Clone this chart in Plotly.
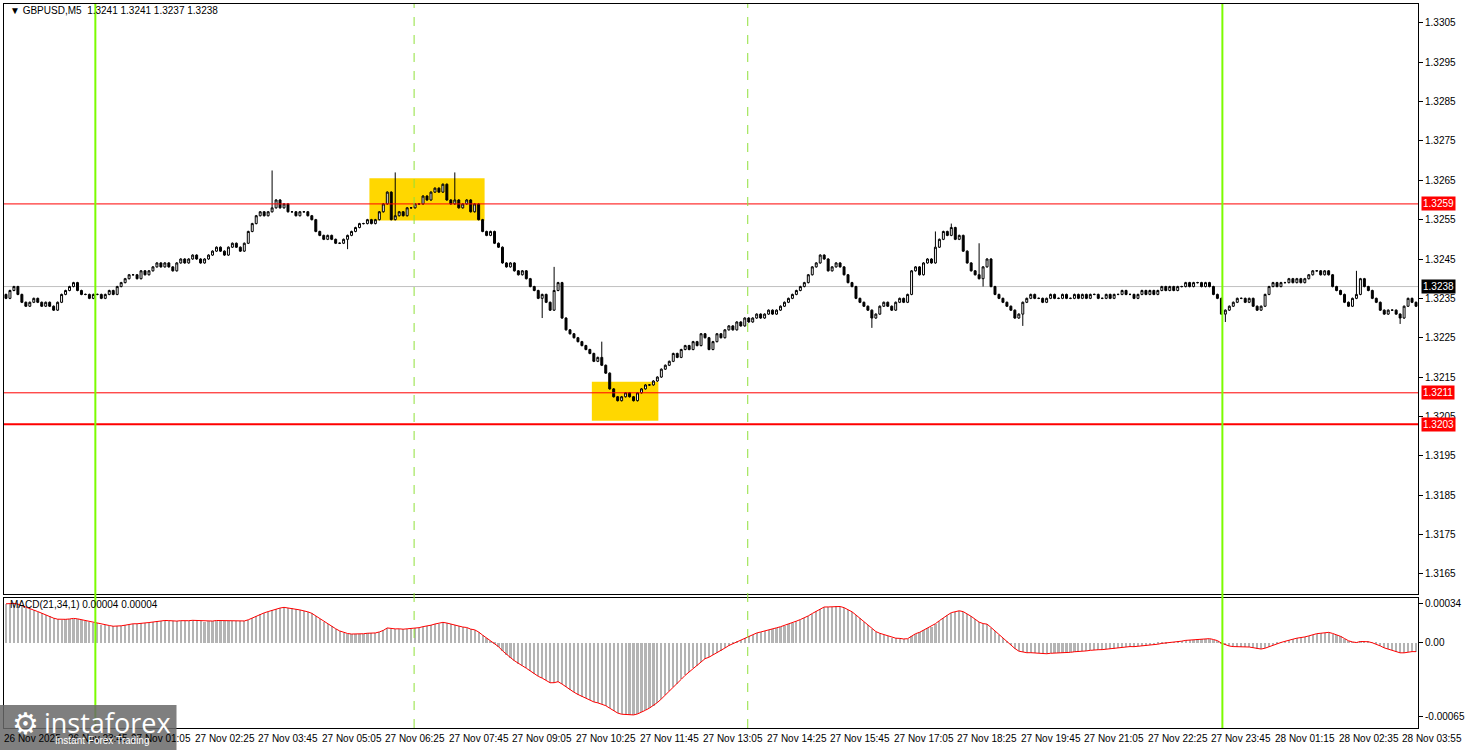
import plotly.graph_objects as go
from plotly.subplots import make_subplots
import numpy as np

# ---- data (pips above 1.3200) ----
prior_pips = [10,11,12,12,13,14,14,15,16,17,17,18,19,20,20,21,22,23,23,24,25,26,26,27,28,28,29,30,30,31,32,32,33,33,34,34,35,35,36,36]
close_pips = [
 35,37,38,36,34,33,34,35,34,33,34,33,32,34,36,37,38,39,37,36,36,35,36,36,35,36,37,36,38,39,
 40,41,41,40,42,41,42,43,44,43,44,43,42,44,45,
 44,45,46,45,44,45,46,47,48,47,46,48,49,48,47,49,52,
 54,56,57,56,57,58,60,58,59,
 57,57,56,57,57,56,55,52,
 51,50,51,50,49,49,50,51,
 52,53,54,54,55,54,55,
 57,59,62,55,56,57,
 56,58,58,59,59,61,60,62,
 63,62,64,60,59,60,58,59,60,57,59,
 55,52,51,52,49,48,
 44,43,44,42,41,42,
 40,38,37,35,36,34,32,37,39,
 30,27,26,25,24,23,
 22,21,19,20,18,16,12,
 10,9,10,11,10,9,11,12,13,13,14,
 15,17,18,19,21,20,22,
 23,22,24,23,26,25,22,24,
 26,25,27,28,27,29,28,30,
 29,30,31,30,31,32,31,32,33,
 34,35,36,37,38,39,41,
 43,44,46,45,
 42,43,44,43,41,39,38,
 35,34,33,32,30,31,
 33,34,33,32,34,35,34,36,
 42,43,41,44,45,44,
 48,50,52,51,53,
 50,51,47,44,
 42,41,40,43,45,
 38,36,35,34,33,32,
 30,31,34,
 35,36,35,35,34,35,36,
 35,35,36,35,35,36,35,36,35,36,36,35,35,36,35,36,36,37,36,36,35,36,37,36,37,36,37,38,37,38,37,38,38,39,38,39,
 39,38,39,38,36,35,
 31,32,33,34,
 35,35,34,35,33,
 32,33,36,38,
 39,38,39,39,40,39,40,39,40,
 41,42,42,41,42,41,
 38,37,36,
 34,33,35,36,40,
 38,37,35,34,
 32,31,32,32,31,30,
 33,35,34,33]
spike_highs = {67: 67.5, 98: 67, 113: 67, 138: 43, 150: 24, 234: 52, 238: 54, 245: 49, 340: 42}
spike_lows = {86: 47.5, 135: 30, 218: 27.5, 246: 38, 256: 28, 307: 29, 351: 28.5}
tick_labels = ["26 Nov 2025","26 Nov 23:45","27 Nov 01:05","27 Nov 02:25","27 Nov 03:45","27 Nov 05:05",
 "27 Nov 06:25","27 Nov 07:45","27 Nov 09:05","27 Nov 10:25","27 Nov 11:45","27 Nov 13:05",
 "27 Nov 14:25","27 Nov 15:45","27 Nov 17:05","27 Nov 18:25","27 Nov 19:45","27 Nov 21:05",
 "27 Nov 22:25","27 Nov 23:45","28 Nov 01:15","28 Nov 02:35","28 Nov 03:55"]
levels = [1.3259, 1.3211, 1.3203]
last_price = 1.3238

n = len(close_pips)
x = np.arange(n)
c = 1.32 + np.array(close_pips) / 1e4
o = np.concatenate([[1.32 + prior_pips[-1] / 1e4], c[:-1]])
h = np.maximum(o, c) + 0.00002
l = np.minimum(o, c) - 0.00002
for k, v in spike_highs.items():
    h[k] = 1.32 + v / 1e4
for k, v in spike_lows.items():
    l[k] = 1.32 + v / 1e4

# MACD(21,34,1)
allc = np.concatenate([1.32 + np.array(prior_pips) / 1e4, c])
def ema(a, p):
    k = 2 / (p + 1); out = np.empty_like(a); out[0] = a[0]
    for i in range(1, len(a)):
        out[i] = a[i] * k + out[i - 1] * (1 - k)
    return out
macd = (ema(allc, 21) - ema(allc, 34))[len(prior_pips):]

FONT = "Liberation Sans"
fig = make_subplots(rows=2, cols=1, shared_xaxes=True, vertical_spacing=0.0055,
                    row_heights=[0.8193, 0.1807])
fig.add_trace(go.Candlestick(x=x, open=o, high=h, low=l, close=c,
    increasing=dict(fillcolor="white", line=dict(color="black", width=1)),
    decreasing=dict(fillcolor="black", line=dict(color="black", width=1)),
    whiskerwidth=0, showlegend=False, hoverinfo="skip"), row=1, col=1)
fig.add_trace(go.Bar(x=x, y=macd, marker=dict(color="#B4B4B4", line=dict(width=0)),
    width=0.55, showlegend=False), row=2, col=1)
fig.add_trace(go.Scatter(x=x, y=macd, mode="lines", line=dict(color="red", width=1),
    showlegend=False), row=2, col=1)

ax = dict(showgrid=False, zeroline=False, showline=True, linecolor="black", mirror=True,
          linewidth=1)
fig.update_xaxes(range=[-0.5, 355.5], rangeslider_visible=False, showticklabels=False, **ax)
fig.update_yaxes(side="right", ticks="outside", ticklen=4, tickcolor="black",
                 tickfont=dict(family=FONT, size=10, color="black"), **ax)
fig.update_yaxes(range=[1.31599, 1.33098], tickvals=[round(1.3165 + 0.001 * k, 4) for k in range(15)],
                 tickformat=".4f", row=1, col=1)
fig.update_yaxes(range=[-0.00075, 0.00039], tickvals=[0.00034, 0.0, -0.00065],
                 ticktext=["0.00034", "0.00", "-0.00065"], row=2, col=1)

shapes = []
def ypaper(pix):
    return (728 - pix) / 725
shapes.append(dict(type="rect", xref="x", yref="y", x0=91.5, x1=120.5, y0=1.32548, y1=1.32655,
                   fillcolor="#FFD700", line=dict(width=0), layer="below"))
shapes.append(dict(type="rect", xref="x", yref="y", x0=147.5, x1=164.25, y0=1.32039, y1=1.32138,
                   fillcolor="#FFD700", line=dict(width=0), layer="below"))
shapes.append(dict(type="line", xref="paper", yref="y", x0=0, x1=1, y0=last_price, y1=last_price,
                   line=dict(color="#C0C0C0", width=1), layer="below"))
for lv in levels:
    shapes.append(dict(type="line", xref="paper", yref="y", x0=0, x1=1, y0=lv, y1=lv,
                       line=dict(color="red", width=2 if lv == 1.3203 else 1)))
for xv in [22.5, 306.25]:
    shapes.append(dict(type="line", xref="x", yref="paper", x0=xv, x1=xv, y0=0, y1=1,
                       line=dict(color="#7CFC00", width=2)))
for xv in [102.75, 186.75]:
    shapes.append(dict(type="line", xref="x", yref="paper", x0=xv, x1=xv, y0=0, y1=1,
                       line=dict(color="#8FE03A", width=1, dash="dash")))
shapes.append(dict(type="rect", xref="paper", yref="paper", x0=-0.003, x1=0.122, y0=ypaper(750), y1=ypaper(705),
                   fillcolor="rgba(105,105,105,0.85)", line=dict(width=0)))
fig.update_layout(shapes=shapes)

ann = []
for i, t in enumerate(tick_labels):
    ann.append(dict(x=i * 16 - 0.5, y=ypaper(731), xref="x", yref="paper", text=t, showarrow=False,
                    xanchor="left", yanchor="top", xshift=-2,
                    font=dict(family=FONT, size=10, color="black")))
for lv, col in [(1.3259, "red"), (1.3211, "red"), (1.3203, "red"), (last_price, "black")]:
    ann.append(dict(x=1.0, y=lv, xref="paper", yref="y", text=f"{lv:.4f}", showarrow=False,
                    xanchor="left", yanchor="middle", bgcolor=col, borderpad=1, xshift=3,
                    font=dict(family=FONT, size=10, color="white")))
ann.append(dict(x=0.003, y=ypaper(10), xref="paper", yref="paper", showarrow=False, xanchor="left",
                yanchor="middle", text="▼ GBPUSD,M5  1.3241 1.3241 1.3237 1.3238",
                font=dict(family=FONT, size=10, color="black")))
ann.append(dict(x=0.003, y=ypaper(604), xref="paper", yref="paper", showarrow=False, xanchor="left",
                yanchor="middle", text="MACD(21,34,1) 0.00004 0.00004",
                font=dict(family=FONT, size=10, color="black")))
ann.append(dict(x=0.027, y=ypaper(722), xref="paper", yref="paper", showarrow=False, xanchor="left",
                yanchor="middle", text="instaforex",
                font=dict(family="Open Sans", size=27, color="white")))
ann.append(dict(x=0.035, y=ypaper(741), xref="paper", yref="paper", showarrow=False, xanchor="left",
                yanchor="middle", text="Instant Forex Trading",
                font=dict(family=FONT, size=10, color="white")))
ann.append(dict(x=0.004, y=ypaper(722), xref="paper", yref="paper", showarrow=False, xanchor="left",
                yanchor="middle", text="⚙", font=dict(size=30, color="white")))
fig.update_layout(annotations=ann, width=1468, height=750, plot_bgcolor="white", paper_bgcolor="white",
                  margin=dict(l=3, r=41, t=3, b=22), bargap=0, showlegend=False)
fig.write_html("out.html", config={"displayModeBar": False},
               post_script="document.body.style.margin='0px';document.body.style.overflow='hidden';")
